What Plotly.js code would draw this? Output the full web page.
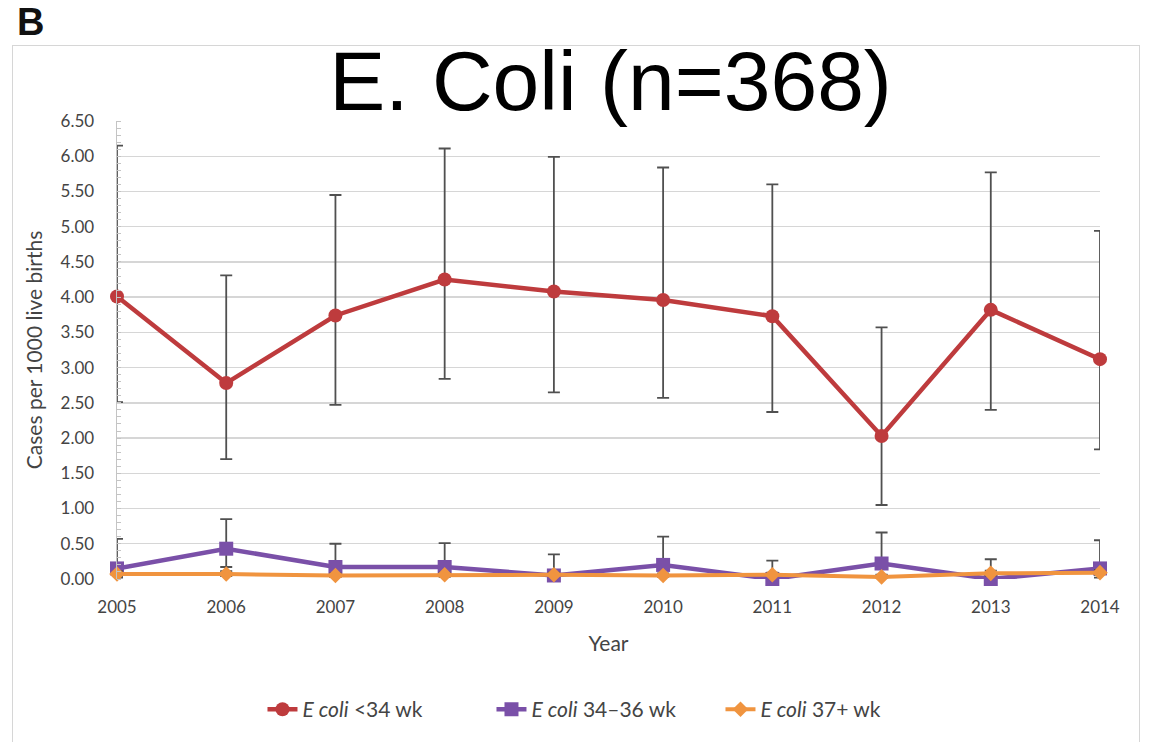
<!DOCTYPE html>
<html>
<head>
<meta charset="utf-8">
<script src="https://cdn.plot.ly/plotly-3.0.1.min.js"></script>
<style>
  html, body { margin: 0; padding: 0; background: #fff; width: 1152px; height: 742px; overflow: hidden; }
  #frame { position: absolute; left: 12px; top: 45px; width: 1126px; height: 720px; border: 1.5px solid #d6d6d6; }
  #panel { position: absolute; left: 17px; top: 1px; font: bold 38px "Liberation Sans", Arial, sans-serif; color: #111; }
  #chart { position: absolute; left: 0; top: 0; width: 1152px; height: 742px; }
</style>
</head>
<body>
<div id="frame"></div>
<div id="panel">B</div>
<div id="chart"></div>
<script>
// Years on the x axis
const years = [2005, 2006, 2007, 2008, 2009, 2010, 2011, 2012, 2013, 2014];

// E. coli <34 wk: rate and 95% CI bounds
const pre34 = [4.01, 2.78, 3.74, 4.25, 4.08, 3.96, 3.73, 2.03, 3.82, 3.12];
const pre34Hi = [6.15, 4.31, 5.45, 6.11, 5.99, 5.84, 5.60, 3.57, 5.77, 4.94];
const pre34Lo = [2.51, 1.70, 2.47, 2.84, 2.65, 2.57, 2.37, 1.05, 2.40, 1.84];

// E. coli 34–36 wk
const mid = [0.15, 0.43, 0.17, 0.17, 0.05, 0.20, 0.00, 0.22, 0.00, 0.15];
const midHi = [0.57, 0.85, 0.50, 0.51, 0.35, 0.60, 0.26, 0.66, 0.28, 0.55];
const midLo = [0.02, 0.17, 0.03, 0.03, 0.00, 0.04, 0.00, 0.05, 0.00, 0.02];

// E. coli 37+ wk
const term = [0.07, 0.07, 0.05, 0.06, 0.06, 0.05, 0.06, 0.03, 0.08, 0.09];
const termHi = [0.11, 0.11, 0.08, 0.09, 0.09, 0.08, 0.09, 0.06, 0.12, 0.13];
const termLo = [0.04, 0.04, 0.03, 0.04, 0.04, 0.03, 0.04, 0.01, 0.05, 0.06];

const yTicks = [0, 0.5, 1, 1.5, 2, 2.5, 3, 3.5, 4, 4.5, 5, 5.5, 6, 6.5];

const diff = (a, b) => a.map((v, i) => +(v - b[i]).toFixed(3));

function errBars(values, hi, lo) {
  return {
    type: 'data', symmetric: false,
    array: diff(hi, values), arrayminus: diff(values, lo),
    color: '#505050', thickness: 1.8, width: 6
  };
}

const traces = [
  {
    x: years, y: pre34, name: '<i>E coli</i> <34 wk', mode: 'lines+markers', cliponaxis: false,
    line: { color: '#be3b3d', width: 4.5 },
    marker: { symbol: 'circle', size: 14, color: '#be3b3d' },
    error_y: errBars(pre34, pre34Hi, pre34Lo)
  },
  {
    x: years, y: mid, name: '<i>E coli</i> 34–36 wk', mode: 'lines+markers', cliponaxis: false,
    line: { color: '#7a50a8', width: 4.5 },
    marker: { symbol: 'square', size: 14, color: '#7a50a8' },
    error_y: errBars(mid, midHi, midLo)
  },
  {
    x: years, y: term, name: '<i>E coli</i> 37+ wk', mode: 'lines+markers', cliponaxis: false,
    line: { color: '#f0943f', width: 4 },
    marker: { symbol: 'diamond', size: 12, color: '#f0943f' },
    error_y: errBars(term, termHi, termLo)
  }
];

const labelFamily = 'Lato, "Open Sans", sans-serif';
const tickFont = { family: labelFamily, size: 17, color: '#444' };

const layout = {
  width: 1152, height: 742,
  paper_bgcolor: 'rgba(0,0,0,0)', plot_bgcolor: 'rgba(0,0,0,0)',
  margin: { l: 117, r: 52, t: 121, b: 163 },
  showlegend: true,
  title: {
    text: 'E. Coli (n=368)',
    font: { family: '"Liberation Sans", Arial, sans-serif', size: 84, color: '#000' },
    x: 0.53, xanchor: 'center', y: 0.892, yanchor: 'middle'
  },
  xaxis: {
    range: [2005, 2014], tickvals: years, ticktext: years.map(String),
    showgrid: false, zeroline: false, showline: false, ticks: '',
    tickfont: tickFont, ticklabelstandoff: 16,
    title: { text: 'Year', font: { family: labelFamily, size: 21, color: '#444' }, standoff: 20 }
  },
  yaxis: {
    range: [0, 6.5], tickvals: yTicks, ticktext: yTicks.map(v => v.toFixed(2)),
    showgrid: true, gridcolor: '#d6d6d6', gridwidth: 1.4, zeroline: false,
    showline: true, linecolor: '#c4c4c4', linewidth: 1.4, ticks: '',
    tickfont: tickFont, ticklabelstandoff: 18,
    minor: { dtick: 0.1, ticks: 'inside', ticklen: 4, tickcolor: '#c4c4c4', showgrid: false },
    title: { text: 'Cases per 1000 live births', font: { family: labelFamily, size: 21, color: '#444' }, standoff: 12 }
  },
  legend: {
    orientation: 'h', x: 0.148, xanchor: 'left', y: -0.285, yanchor: 'middle',
    font: { family: labelFamily, size: 21, color: '#444' },
    entrywidth: 184, entrywidthmode: 'pixels',
    traceorder: 'normal'
  }
};

Plotly.newPlot('chart', traces, layout, { displayModeBar: false, staticPlot: true });
</script>
</body>
</html>
